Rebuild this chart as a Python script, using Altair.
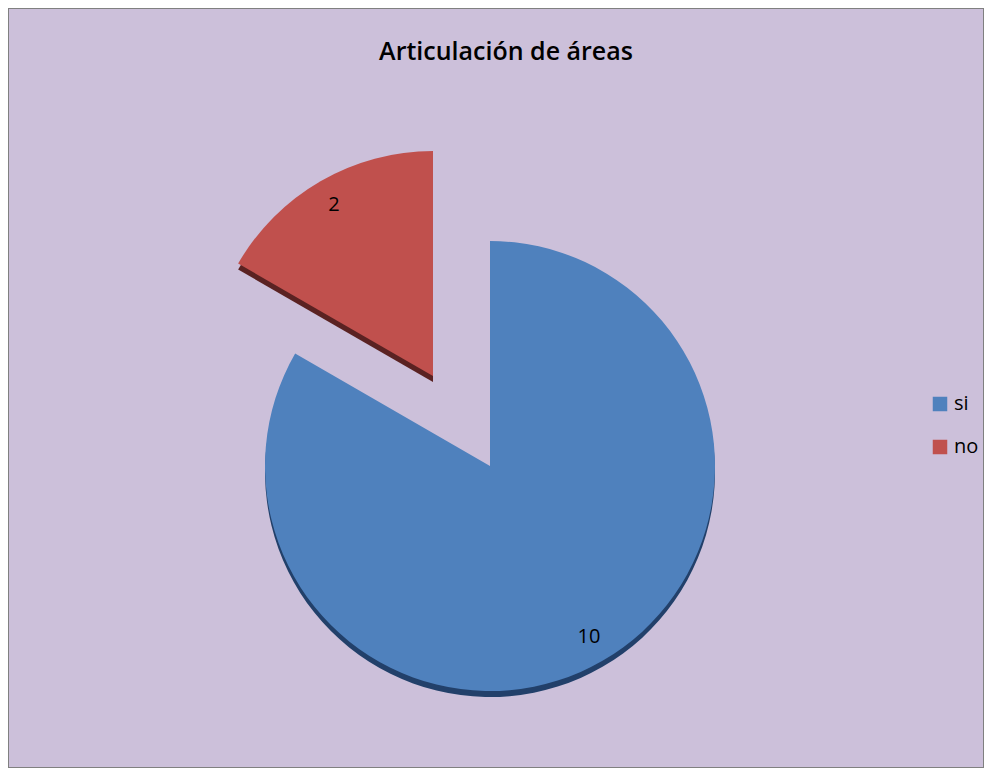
import math
import altair as alt
import pandas as pd

# ---- data ----
categories = ["si", "no"]
values = [10, 2]
colors = ["#4F81BD", "#C0504D"]
edge_colors = ["#22406A", "#5A2222"]
title_text = "Articulación de áreas"

df = pd.DataFrame({"cat": categories, "val": values, "idx": list(range(len(values)))})
total = sum(values)

CX, CY, R = 482, 458, 225
EXP_DX, EXP_DY = -57, -90  # explosion of the "no" slice
DEPTH = 6

base = (
    alt.Chart(df)
    .transform_window(end="sum(val)", sort=[alt.SortField("idx")], frame=[None, 0])
    .transform_calculate(start="datum.end - datum.val", mid="datum.end - datum.val / 2")
)

theta_scale = alt.Scale(domain=[0, total], range=[0, 2 * math.pi])
theta = alt.Theta("start:Q", scale=theta_scale)
theta2 = alt.Theta2("end:Q")

color = alt.Color(
    "cat:N",
    scale=alt.Scale(domain=categories, range=colors),
    legend=alt.Legend(
        title=None,
        orient="none",
        legendX=922,
        legendY=386,
        symbolType="square",
        symbolSize=210,
        symbolStrokeWidth=0,
        symbolOpacity=1,
        labelFontSize=20,
        labelFont="Open Sans",
        labelColor="black",
        rowPadding=23,
    ),
)


def arc_layer(cat, fill, dx=0, dy=0):
    enc = dict(theta=theta, theta2=theta2, x=alt.value(CX), y=alt.value(CY), radius=alt.value(R))
    if fill is None:
        enc["color"] = color
    else:
        enc["color"] = alt.value(fill)
    return (
        base.transform_filter(alt.datum.cat == cat)
        .mark_arc(xOffset=dx, yOffset=dy, stroke=None)
        .encode(**enc)
    )


shadow_si = arc_layer("si", edge_colors[0], 0, DEPTH)
shadow_no = arc_layer("no", edge_colors[1], EXP_DX, EXP_DY + DEPTH)
main_si = arc_layer("si", None, 0, 0)
main_no = arc_layer("no", None, EXP_DX, EXP_DY)


def label_layer(cat, dx=0, dy=0):
    return (
        base.transform_filter(alt.datum.cat == cat)
        .mark_text(font="Open Sans", fontSize=20, color="black", xOffset=dx, yOffset=dy)
        .encode(
            theta=alt.Theta("mid:Q", scale=theta_scale),
            radius=alt.value(198),
            x=alt.value(CX),
            y=alt.value(CY),
            text=alt.Text("val:Q"),
        )
    )


lab_si = label_layer("si")
lab_no = label_layer("no", EXP_DX, EXP_DY)

chart = (
    alt.layer(shadow_si, shadow_no, main_si, main_no, lab_si, lab_no)
    .properties(
        width=976,
        height=760,
        autosize=alt.AutoSizeParams(type="none"),
        padding=0,
        background="#CCC0DA",
        title=alt.Title(
            title_text,
            fontSize=25,
            font="Open Sans",
            fontWeight=600,
            color="black",
            offset=-57,
            dx=10,
        ),
    )
    .configure_view(fill="#CCC0DA", stroke="#808080", strokeWidth=2)
)

chart.save("out.html", embed_options={"renderer": "svg", "actions": False})
